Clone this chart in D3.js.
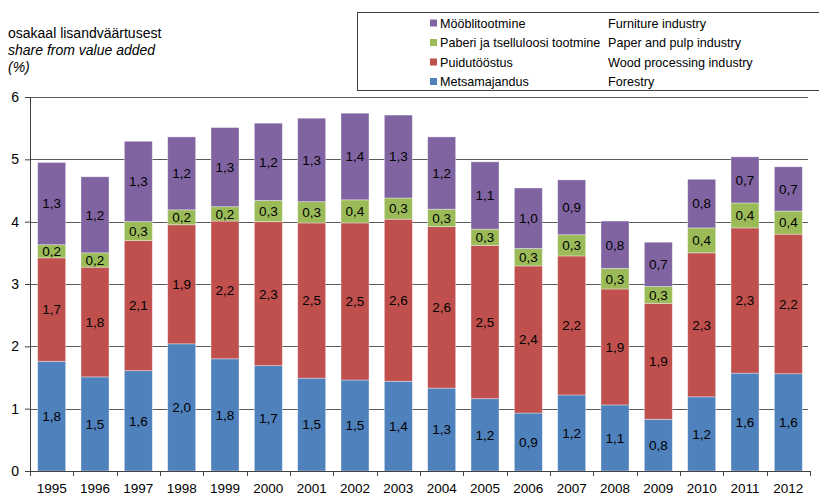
<!DOCTYPE html>
<html>
<head>
<meta charset="utf-8">
<script src="https://cdn.jsdelivr.net/npm/d3@7"></script>
<style>
  body { margin: 0; background: #fff; }
  svg { font-family: "Liberation Sans", Arial, sans-serif; }
</style>
</head>
<body>
<div id="chart"></div>
<script>
var years = [1995,1996,1997,1998,1999,2000,2001,2002,2003,2004,2005,2006,2007,2008,2009,2010,2011,2012];
var forestry  = [1.76,1.51,1.61,2.04,1.80,1.69,1.49,1.46,1.44,1.33,1.16,0.93,1.22,1.06,0.83,1.19,1.57,1.56];
var wood      = [1.66,1.76,2.09,1.91,2.21,2.31,2.49,2.52,2.60,2.59,2.46,2.36,2.23,1.86,1.86,2.31,2.33,2.24];
var paper     = [0.21,0.23,0.30,0.24,0.23,0.34,0.34,0.37,0.34,0.28,0.26,0.28,0.34,0.33,0.27,0.40,0.40,0.37];
var furniture = [1.32,1.22,1.29,1.17,1.27,1.24,1.34,1.39,1.33,1.16,1.08,0.97,0.88,0.76,0.71,0.78,0.74,0.71];
var yTicks = [0,1,2,3,4,5,6];

var seriesKeys = ["forestry", "wood", "paper", "furniture"];
var seriesEt = ["Metsamajandus", "Puidutööstus", "Paberi ja tselluloosi tootmine", "Mööblitootmine"];
var seriesEn = ["Forestry", "Wood processing industry", "Paper and pulp industry", "Furniture industry"];
var colors = ["#4F81BD", "#C0504D", "#9BBB59", "#8064A2"];

// table for the stack
var table = years.map(function(yr, i) {
  return {year: yr, forestry: forestry[i], wood: wood[i], paper: paper[i], furniture: furniture[i]};
});

var width = 819, height = 496;
var plotLeft = 30, plotRight = 810, plotTop = 97, plotBottom = 471;

var svg = d3.select("#chart").append("svg")
  .attr("width", width)
  .attr("height", height);

var x = d3.scaleBand().domain(years).range([plotLeft, plotRight]).paddingInner(0.354).paddingOuter(0.177);
var y = d3.scaleLinear().domain([0, 6]).range([plotBottom, plotTop]);

//gridlines
svg.append("g").selectAll("line")
  .data(yTicks.filter(function(d){ return d > 0; }))
  .enter().append("line")
  .attr("x1", plotLeft).attr("x2", 808)
  .attr("y1", function(d){ return Math.round(y(d)) + 0.5; })
  .attr("y2", function(d){ return Math.round(y(d)) + 0.5; })
  .style("stroke", "#5a5a5a")
  .style("stroke-width", "1px");

//stacked bars
var stack = d3.stack().keys(seriesKeys);
var layers = stack(table);
var fmt = d3.format(".1f");

var layer = svg.selectAll(".layer")
  .data(layers)
  .enter().append("g")
  .attr("class", "layer")
  .style("fill", function(d, i){ return colors[i]; });

layer.selectAll("rect")
  .data(function(d){ return d; })
  .enter().append("rect")
  .attr("x", function(d){ return x(d.data.year); })
  .attr("width", x.bandwidth())
  .attr("y", function(d){ return y(d[1]); })
  .attr("height", function(d){ return y(d[0]) - y(d[1]); })
  .style("stroke", "rgba(255,255,255,0.45)")
  .style("stroke-width", "0.8px");

//value labels
layer.selectAll("text")
  .data(function(d){ return d; })
  .enter().append("text")
  .attr("x", function(d){ return x(d.data.year) + x.bandwidth() / 2; })
  .attr("y", function(d){ return (y(d[0]) + y(d[1])) / 2; })
  .attr("dy", "0.36em")
  .style("text-anchor", "middle")
  .style("font-size", "13.5px")
  .style("fill", "#000")
  .text(function(d){ return fmt(d[1] - d[0]).replace(".", ","); });

//Y axis
var yAxis = svg.append("g")
  .attr("transform", "translate(" + plotLeft + ",0)")
  .call(d3.axisLeft(y).tickValues(yTicks).tickSize(5).tickPadding(6).tickFormat(d3.format("d")));
yAxis.selectAll("text").style("font-size", "14px").style("fill", "#000");
yAxis.selectAll("line, path").style("stroke", "#404040");
yAxis.select(".domain").attr("d", "M0.5," + plotTop + "V" + (plotBottom + 0.5));

//X axis
var xAxis = svg.append("g")
  .attr("transform", "translate(0," + plotBottom + ")")
  .call(d3.axisBottom(x).tickSize(0).tickPadding(12));
xAxis.selectAll("text").style("font-size", "13.5px").style("fill", "#000");
xAxis.select(".domain").attr("d", "M" + plotLeft + ",0.5H" + plotRight).style("stroke", "#404040");

// tick marks between categories
var bounds = years.map(function(d){ return x(d) - x.step() * x.paddingInner() / 2; });
bounds.push(plotRight);
xAxis.selectAll(".bound")
  .data(bounds)
  .enter().append("line")
  .attr("class", "bound")
  .attr("x1", function(d){ return Math.round(d) + 0.5; })
  .attr("x2", function(d){ return Math.round(d) + 0.5; })
  .attr("y1", 0).attr("y2", 5)
  .style("stroke", "#404040");

//Y axis title
var title = svg.append("text")
  .attr("x", 8)
  .attr("y", 38)
  .style("font-size", "14px")
  .style("fill", "#000");
title.append("tspan").attr("x", 8).text("osakaal lisandväärtusest");
title.append("tspan").attr("x", 8).attr("dy", 17).style("font-style", "italic").text("share from value added");
title.append("tspan").attr("x", 8).attr("dy", 17).style("font-style", "italic").text("(%)");

//Legend
var legend = svg.append("g");
legend.append("rect")
  .attr("x", 357.5).attr("y", 12.5)
  .attr("width", 470).attr("height", 78)
  .style("fill", "#fff")
  .style("stroke", "#404040")
  .style("stroke-width", "1px");

var legendOrder = [3, 2, 1, 0];
var item = legend.selectAll(".item")
  .data(legendOrder)
  .enter().append("g")
  .attr("class", "item")
  .attr("transform", function(d, i){ return "translate(0," + (23 + i * 19.5) + ")"; });

item.append("rect")
  .attr("x", 430).attr("y", -3.5)
  .attr("width", 7).attr("height", 7)
  .style("fill", function(d){ return colors[d]; });

item.append("text")
  .attr("x", 440).attr("dy", "0.36em")
  .style("font-size", "12.6px")
  .text(function(d){ return seriesEt[d]; });

item.append("text")
  .attr("x", 608).attr("dy", "0.36em")
  .style("font-size", "12.6px")
  .text(function(d){ return seriesEn[d]; });
</script>
</body>
</html>
